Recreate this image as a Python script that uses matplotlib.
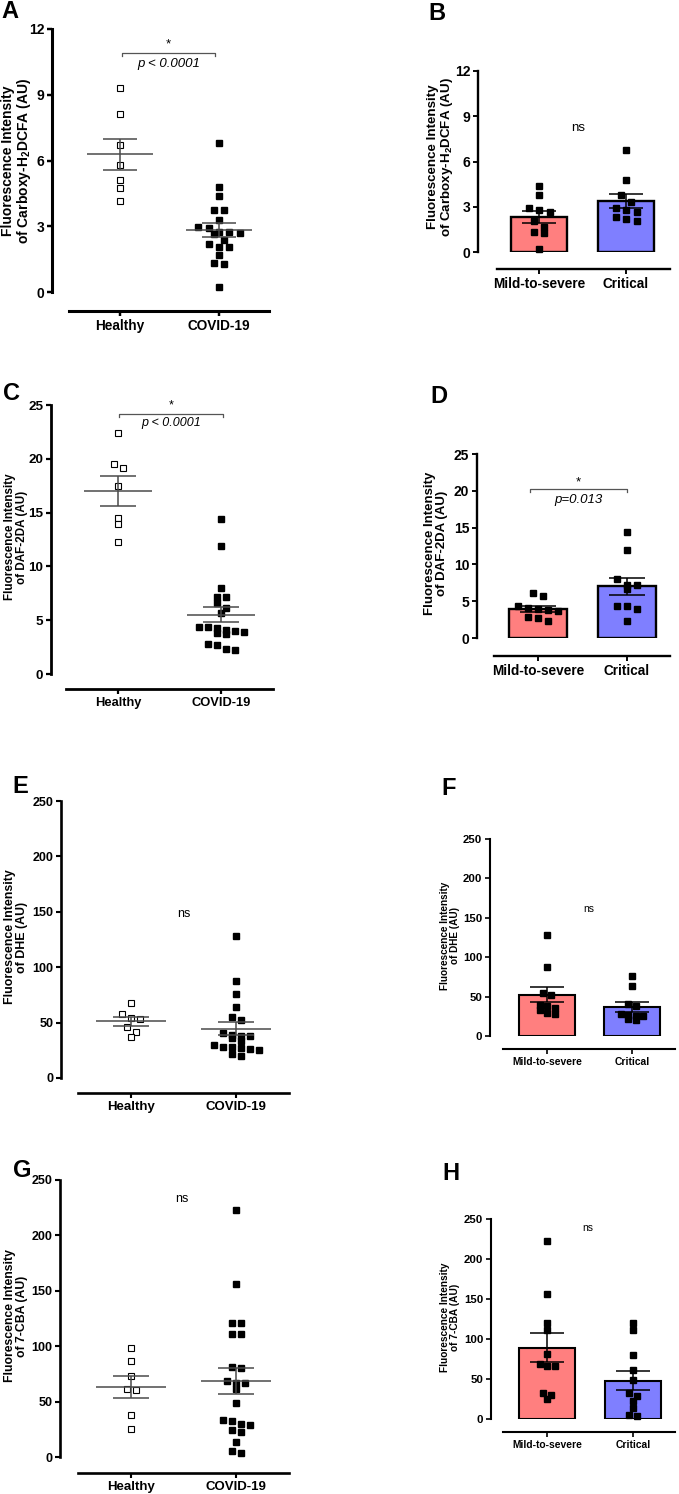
import numpy as np
import matplotlib
matplotlib.use("Agg")
import matplotlib.pyplot as plt

plt.rcParams['font.family'] = ['Liberation Sans', 'DejaVu Sans']
plt.rcParams['mathtext.fontset'] = 'custom'
plt.rcParams['mathtext.rm'] = 'Liberation Sans'
plt.rcParams['mathtext.bf'] = 'Liberation Sans:bold'
plt.rcParams['mathtext.it'] = 'Liberation Sans:italic'

W, H = 679, 1494

# ---- data ----
groups_left = ["Healthy", "COVID-19"]
groups_right = ["Mild-to-severe", "Critical"]

dcfa_healthy = [9.30, 8.12, 6.72, 5.80, 5.09, 4.74, 4.16]
dcfa_mild = [4.36, 3.75, 2.94, 2.76, 2.67, 2.07, 1.69, 1.31, 1.26, 0.21]
dcfa_critical = [6.79, 4.77, 3.75, 3.29, 2.95, 2.76, 2.63, 2.35, 2.19, 2.07]

daf_healthy = [22.4, 19.5, 19.1, 17.5, 14.5, 13.9, 12.25]
daf_mild = [6.1, 5.7, 4.3, 4.1, 4.0, 3.8, 3.7, 2.8, 2.65, 2.25]
daf_critical = [14.4, 11.9, 8.0, 7.2, 7.2, 6.6, 4.4, 4.4, 3.9, 2.35]

dhe_healthy = [67.3, 57.4, 54.5, 53.0, 46.4, 41.7, 37.2]
dhe_mild = [128.5, 87.5, 55, 52, 39, 38, 36, 33, 29.5, 28]
dhe_critical = [76, 64, 41, 38, 28, 27, 26, 25, 22, 20]

cba_healthy = [98.8, 86.7, 72.9, 61.1, 60.2, 37.7, 25.6]
cba_mild = [222.9, 156.5, 120.6, 111.4, 81.4, 68.9, 66.8, 66.4, 33.0, 30.0, 24.6]
cba_critical = [120.6, 111.4, 80.1, 61.4, 48.8, 32.1, 28.8, 23.0, 13.4, 5.4, 3.9]

red = '#FF7F7F'
blue = '#7F7FFF'

fig = plt.figure(figsize=(W / 100, H / 100), dpi=100)


def make_axes(sp, ymax, yticks, lw, tick_fs, cat_fs, cats):
    x0, ytop, ybot, t0, t1, lx0, lx1, ly, right = sp
    ax = fig.add_axes([x0 / W, 1 - ybot / H, (right - x0) / W, (ybot - ytop) / H])
    ppu = t1 - t0
    ax.set_xlim((x0 - t0) / ppu, (right - t0) / ppu)
    ax.set_ylim(0, ymax)
    ax.spines['top'].set_visible(False)
    ax.spines['right'].set_visible(False)
    ax.spines['left'].set_linewidth(lw)
    ax.spines['bottom'].set_linewidth(lw)
    ax.spines['bottom'].set_position(('outward', (ly - ybot) * 0.72))
    ax.spines['bottom'].set_bounds((lx0 - t0) / ppu, (lx1 - t0) / ppu)
    ax.set_yticks(yticks)
    ax.set_xticks([0, 1])
    ax.set_xticklabels(cats)
    ax.tick_params(axis='both', width=lw * 0.8, length=3.5, pad=2)
    ax.tick_params(axis='y', labelsize=tick_fs)
    ax.tick_params(axis='x', labelsize=cat_fs)
    for t in ax.get_xticklabels() + ax.get_yticklabels():
        t.set_fontweight('bold')
    ax.patch.set_alpha(0)
    return ax, ppu, (ybot - ytop) / ymax


def swarm(vals, px_y, size, step):
    # rows of nearby values laid out side by side, centred on the group
    vals = np.asarray(vals, float)
    order = np.argsort(vals)[::-1]
    offs = np.zeros(len(vals))
    rows = []
    for i in order:
        if rows and (vals[rows[-1][0]] - vals[i]) * px_y < size:
            rows[-1].append(i)
        else:
            rows.append([i])
    for r in rows:
        n = len(r)
        for k, i in enumerate(r):
            offs[i] = (k - (n - 1) / 2) * step
    return offs


def scatter_panel(sp, healthy, covid, ymax, yticks, lw, tick_fs, cat_fs,
                  msize, size_px, step_px):
    ax, ppu, px_y = make_axes(sp, ymax, yticks, lw, tick_fs, cat_fs, groups_left)
    for gi, vals in enumerate([healthy, covid]):
        vals = np.asarray(vals, float)
        xs = gi + swarm(vals, px_y, size_px, step_px) / ppu
        if gi == 0:
            ax.plot(xs, vals, 's', ms=msize, mfc='white', mec='black', mew=0.8,
                    ls='none', clip_on=False, zorder=3)
        else:
            ax.plot(xs, vals, 's', ms=msize, mfc='black', mec='black',
                    ls='none', clip_on=False, zorder=3)
        m = vals.mean()
        se = vals.std(ddof=1) / np.sqrt(len(vals))
        ax.hlines(m, gi - 0.33, gi + 0.33, color='#4a4a4a', lw=1.1, zorder=4)
        ax.hlines([m - se, m + se], gi - 0.17, gi + 0.17, color='#4a4a4a', lw=1.1, zorder=4)
        ax.vlines(gi, m - se, m + se, color='#4a4a4a', lw=1.1, zorder=4)
    return ax


def bar_panel(sp, mild, crit, ymax, yticks, lw, tick_fs, cat_fs,
              width, msize, size_px, step_px):
    ax, ppu, px_y = make_axes(sp, ymax, yticks, lw, tick_fs, cat_fs, groups_right)
    for gi, (vals, col) in enumerate([(mild, red), (crit, blue)]):
        vals = np.asarray(vals, float)
        m = vals.mean()
        se = vals.std(ddof=1) / np.sqrt(len(vals))
        ax.bar(gi, m, width=width, color=col, edgecolor='black', lw=lw, zorder=2)
        ax.errorbar(gi, m, yerr=se, color='black', lw=1.1, capsize=width * ppu * 0.22,
                    capthick=1.1, zorder=4)
        xs = gi + swarm(vals, px_y, size_px, step_px) / ppu
        ax.plot(xs, vals, 's', ms=msize, mfc='black', mec='black', ls='none',
                clip_on=False, zorder=3)
    return ax


def bracket(ax, x0, x1, y, dy, star_y, p_y, ptxt, fs):
    ax.plot([x0, x0, x1, x1], [y - dy, y, y, y - dy], color='#555555', lw=0.9)
    ax.text((x0 + x1) / 2, star_y, '*', ha='center', va='center', fontsize=fs)
    ax.text((x0 + x1) / 2, p_y, ptxt, ha='center', va='center', fontsize=fs,
            style='italic')


def ylabel(x, y, line2, fs):
    fig.text(x / W, 1 - y / H, 'Fluorescence Intensity\n' + line2, rotation=90,
             ha='center', va='center', multialignment='center', fontsize=fs,
             fontweight='bold', linespacing=1.05)


def letter(x, y, s):
    fig.text(x / W, 1 - y / H, s, ha='left', va='baseline', fontsize=17,
             fontweight='bold')


# layout in pixels: spine x, y top, y bottom, tick0, tick1, line x0, line x1, line y, right
sA = (52, 29, 292, 120, 219, 69, 269, 311, 285)
sB = (478, 71, 252, 539, 626, 497, 670, 269, 675)
sC = (51, 405, 674, 118, 221, 66, 273, 689, 285)
sD = (477, 454, 638, 538, 627, 494, 670, 656, 675)
sE = (61, 801, 1078, 131, 236, 78, 289, 1093, 295)
sF = (490, 839, 1036, 547, 632, 503, 675, 1049, 678)
sG = (60, 1180, 1457, 131, 236, 78, 289, 1473, 295)
sH = (491, 1219, 1419, 547, 633, 503, 675, 1432, 678)

# A
axA = scatter_panel(sA, dcfa_healthy, dcfa_mild + dcfa_critical, 12, [0, 3, 6, 9, 12],
                    2.2, 10, 9.8, 5.0, 7, 10.5)
bracket(axA, 0.02, 0.96, 10.9, 0.15, 11.3, 10.4, 'p < 0.0001', 9.5)
ylabel(17, 161, r'of Carboxy-H$_\mathbf{2}$DCFA (AU)', 10)
letter(1, 18, 'A')

# B
axB = bar_panel(sB, dcfa_mild, dcfa_critical, 12, [0, 3, 6, 9, 12],
                1.7, 10, 9.8, 0.655, 5.0, 7, 10.5)
axB.text(0.45, 8.2, 'ns', ha='center', va='center', fontsize=9.5)
ylabel(441, 157, r'of Carboxy-H$_\mathbf{2}$DCFA (AU)', 9.6)
letter(428, 20, 'B')

# C
axC = scatter_panel(sC, daf_healthy, daf_mild + daf_critical, 25, [0, 5, 10, 15, 20, 25],
                    2.0, 9.7, 9.3, 4.4, 6, 9)
bracket(axC, 0.01, 1.02, 24.2, 0.3, 25.0, 23.3, 'p < 0.0001', 9)
ylabel(16, 537, 'of DAF-2DA (AU)', 8.4)
letter(3, 400, 'C')

# D
axD = bar_panel(sD, daf_mild, daf_critical, 25, [0, 5, 10, 15, 20, 25],
                1.7, 10, 9.8, 0.645, 5.0, 6.5, 10)
bracket(axD, -0.09, 1.0, 20.2, 0.4, 21.2, 18.8, 'p=0.013', 9.5)
ylabel(436, 543, 'of DAF-2DA (AU)', 9.5)
letter(430, 403, 'D')

# E
axE = scatter_panel(sE, dhe_healthy, dhe_mild + dhe_critical, 250, [0, 50, 100, 150, 200, 250],
                    1.9, 9, 9.5, 4.4, 5.5, 9)
axE.text(0.5, 148, 'ns', ha='center', va='center', fontsize=9)
ylabel(16, 937, 'of DHE (AU)', 8.9)
letter(12, 793, 'E')

# F
axF = bar_panel(sF, dhe_mild, dhe_critical, 250, [0, 50, 100, 150, 200, 250],
                1.5, 8.2, 7.4, 0.655, 3.7, 4.5, 7.5)
axF.text(0.49, 161, 'ns', ha='center', va='center', fontsize=7.5)
ylabel(450, 936, 'of DHE (AU)', 7.2)
letter(441, 795, 'F')

# G
axG = scatter_panel(sG, cba_healthy, cba_mild + cba_critical, 250, [0, 50, 100, 150, 200, 250],
                    1.9, 9, 9.5, 4.4, 5.5, 9)
axG.text(0.48, 233, 'ns', ha='center', va='center', fontsize=9)
ylabel(16, 1316, 'of 7-CBA (AU)', 8.8)
letter(13, 1177, 'G')

# H
axH = bar_panel(sH, cba_mild, cba_critical, 250, [0, 50, 100, 150, 200, 250],
                1.5, 8.2, 7.4, 0.66, 3.7, 4.5, 7.5)
axH.text(0.47, 239, 'ns', ha='center', va='center', fontsize=7.5)
ylabel(450, 1317, 'of 7-CBA (AU)', 7.3)
letter(442, 1180, 'H')

fig.savefig('out.png', dpi=100)
